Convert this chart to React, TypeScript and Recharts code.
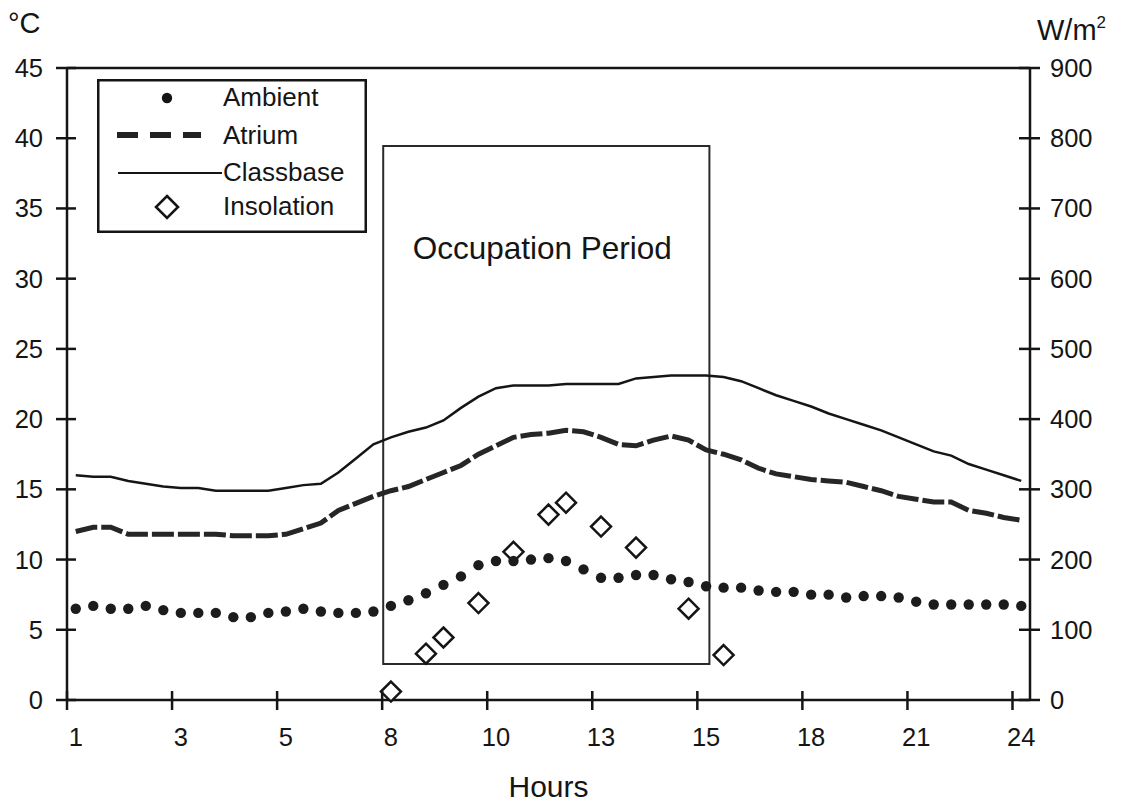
import React from 'react';
import {
  ComposedChart,
  Line,
  Scatter,
  XAxis,
  YAxis,
  ReferenceArea,
  ReferenceLine,
  Legend,
  Label,
} from 'recharts';

// ---------- data ----------
const hourLabels = ['1', '3', '5', '8', '10', '13', '15', '18', '21', '24'];
const labelEvery = 6; // one hour label every 6 samples

const ambient = [
  6.5, 6.7, 6.5, 6.5, 6.7, 6.4, 6.2, 6.2, 6.2, 5.9,
  5.9, 6.2, 6.3, 6.5, 6.3, 6.2, 6.2, 6.3, 6.7, 7.1,
  7.6, 8.2, 8.8, 9.6, 9.9, 9.9, 10.0, 10.1, 9.9, 9.3,
  8.7, 8.7, 8.9, 8.9, 8.6, 8.4, 8.1, 8.0, 8.0, 7.8,
  7.7, 7.7, 7.5, 7.5, 7.3, 7.4, 7.4, 7.3, 7.0, 6.8,
  6.8, 6.8, 6.8, 6.8, 6.7,
];

const atrium = [
  12.0, 12.3, 12.3, 11.8, 11.8, 11.8, 11.8, 11.8, 11.8, 11.7,
  11.7, 11.7, 11.8, 12.2, 12.6, 13.5, 14.0, 14.5, 14.9, 15.2,
  15.7, 16.2, 16.7, 17.5, 18.1, 18.7, 18.9, 19.0, 19.2, 19.1,
  18.7, 18.2, 18.1, 18.5, 18.8, 18.5, 17.8, 17.5, 17.1, 16.5,
  16.1, 15.9, 15.7, 15.6, 15.5, 15.2, 14.9, 14.5, 14.3, 14.1,
  14.1, 13.5, 13.3, 13.0, 12.8,
];

const classbase = [
  16.0, 15.9, 15.9, 15.6, 15.4, 15.2, 15.1, 15.1, 14.9, 14.9,
  14.9, 14.9, 15.1, 15.3, 15.4, 16.2, 17.2, 18.2, 18.7, 19.1,
  19.4, 19.9, 20.8, 21.6, 22.2, 22.4, 22.4, 22.4, 22.5, 22.5,
  22.5, 22.5, 22.9, 23.0, 23.1, 23.1, 23.1, 23.0, 22.7, 22.2,
  21.7, 21.3, 20.9, 20.4, 20.0, 19.6, 19.2, 18.7, 18.2, 17.7,
  17.4, 16.8, 16.4, 16.0, 15.6,
];

const insolationIndex = [18, 20, 21, 23, 25, 27, 28, 30, 32, 35, 37];
const insolation = [12, 66, 89, 138, 211, 264, 281, 247, 217, 130, 64];

const tempTicks = [0, 5, 10, 15, 20, 25, 30, 35, 40, 45];
const radTicks = [0, 100, 200, 300, 400, 500, 600, 700, 800, 900];

// occupation period annotation box (x in sample index, y in °C)
const occupationX = [17.56, 36.19];
const occupationY = [2.56, 39.45];

// ---------- derived tables ----------
const data = ambient.map((a, i) => ({
  i,
  ambient: a,
  atrium: atrium[i],
  classbase: classbase[i],
}));
const insolData = insolationIndex.map((idx, k) => ({ i: idx, w: insolation[k] }));
const xTicks = hourLabels.map((_, k) => k * labelEvery);

// ---------- layout ----------
const W = 1123;
const H = 804;
const PLOT_LEFT = 67;
const PLOT_RIGHT = 1030;
const PLOT_TOP = 68;
const PLOT_BOTTOM = 700;
const FONT = '"Liberation Sans", Arial, Helvetica, sans-serif';
const INK = '#151515';

const LeftTick = (props: any) => {
  const { y, payload } = props;
  return (
    <g>
      <line x1={PLOT_LEFT - 11} x2={PLOT_LEFT + 9} y1={y} y2={y} stroke={INK} strokeWidth={2.5} />
      <text x={43} y={y} dy={9} textAnchor="end" fontSize={25.5} fill={INK} fontFamily={FONT}>
        {payload.value}
      </text>
    </g>
  );
};

const RightTick = (props: any) => {
  const { y, payload } = props;
  return (
    <g>
      <line x1={PLOT_RIGHT - 11} x2={PLOT_RIGHT + 10} y1={y} y2={y} stroke={INK} strokeWidth={2.5} />
      <text x={1050} y={y} dy={9} textAnchor="start" fontSize={25.5} fill={INK} fontFamily={FONT}>
        {payload.value}
      </text>
    </g>
  );
};

const XTick = (props: any) => {
  const { x, payload } = props;
  const half = (PLOT_RIGHT - PLOT_LEFT) / ambient.length / 2;
  const lbl = hourLabels[Math.round(payload.value / labelEvery)];
  return (
    <g>
      <line x1={x - half} x2={x - half} y1={PLOT_BOTTOM - 9} y2={PLOT_BOTTOM + 10} stroke={INK} strokeWidth={2.5} />
      <text x={x} y={746} textAnchor="middle" fontSize={25.5} fill={INK} fontFamily={FONT}>
        {lbl}
      </text>
    </g>
  );
};

const Diamond = (props: any) => {
  const { cx, cy } = props;
  if (cx == null || cy == null) return null;
  const r = 10;
  return (
    <path
      d={`M${cx},${cy - r} L${cx + r},${cy} L${cx},${cy + r} L${cx - r},${cy} Z`}
      fill="#fff"
      stroke={INK}
      strokeWidth={2.5}
    />
  );
};

const renderLegend = () => (
  <svg width={270} height={154} style={{ display: 'block' }}>
    <rect x={1.25} y={1.25} width={267.5} height={151.5} fill="#fff" stroke={INK} strokeWidth={2.5} />
    <circle cx={70} cy={19} r={5.2} fill={INK} />
    <text x={126} y={27} fontSize={26} fill={INK} fontFamily={FONT}>Ambient</text>
    <line x1={20} x2={104} y1={56} y2={56} stroke="#222" strokeWidth={6} strokeDasharray="21 12" />
    <text x={126} y={64.5} fontSize={26} fill={INK} fontFamily={FONT}>Atrium</text>
    <line x1={21} x2={125} y1={94} y2={94} stroke={INK} strokeWidth={2.2} />
    <text x={126} y={102} fontSize={26} fill={INK} fontFamily={FONT}>Classbase</text>
    <path d="M70,117 L81,128 L70,139 L59,128 Z" fill="#fff" stroke={INK} strokeWidth={2.6} />
    <text x={126} y={136} fontSize={26} fill={INK} fontFamily={FONT}>Insolation</text>
  </svg>
);

export default function App() {
  return (
    <div style={{ position: 'absolute', left: 0, top: 0, width: W, height: H, background: '#fff' }}>
      <ComposedChart
        width={W}
        height={H}
        data={data}
        margin={{ top: PLOT_TOP, right: 0, bottom: 0, left: 0 }}
        style={{ fontFamily: FONT }}
      >
        <XAxis
          xAxisId="x"
          dataKey="i"
          type="number"
          domain={[-0.5, ambient.length - 0.5]}
          ticks={xTicks}
          interval={0}
          height={H - PLOT_BOTTOM}
          axisLine={{ stroke: INK, strokeWidth: 2.5 }}
          tickLine={false}
          tick={XTick}
        >
          <Label
            content={(p: any) => (
              <text
                x={p.viewBox.x + p.viewBox.width / 2}
                y={797}
                textAnchor="middle"
                fontSize={30}
                fill={INK}
                fontFamily={FONT}
              >
                Hours
              </text>
            )}
          />
        </XAxis>
        <YAxis
          yAxisId="left"
          orientation="left"
          width={PLOT_LEFT}
          domain={[0, 45]}
          ticks={tempTicks}
          interval={0}
          axisLine={{ stroke: INK, strokeWidth: 2.5 }}
          tickLine={false}
          tick={LeftTick}
        >
          <Label
            content={() => (
              <text x={8} y={33} fontSize={29} fill={INK} fontFamily={FONT}>
                °C
              </text>
            )}
          />
        </YAxis>
        <YAxis
          yAxisId="right"
          orientation="right"
          width={W - PLOT_RIGHT}
          domain={[0, 900]}
          ticks={radTicks}
          interval={0}
          axisLine={{ stroke: INK, strokeWidth: 2.5 }}
          tickLine={false}
          tick={RightTick}
        >
          <Label
            content={() => (
              <text x={1037} y={40} fontSize={29} fill={INK} fontFamily={FONT}>
                W/m
                <tspan fontSize={17} dy={-12}>2</tspan>
              </text>
            )}
          />
        </YAxis>

        <ReferenceLine xAxisId="x" yAxisId="left" y={45} stroke={INK} strokeWidth={2.5} />

        <ReferenceArea
          xAxisId="x"
          yAxisId="left"
          x1={occupationX[0]}
          x2={occupationX[1]}
          y1={occupationY[0]}
          y2={occupationY[1]}
          fill="none"
          fillOpacity={0}
          stroke="#2a2a2a"
          strokeWidth={2}
          label={
            <Label
              content={(p: any) => (
                <text
                  x={p.viewBox.x + p.viewBox.width / 2 - 4}
                  y={p.viewBox.y + 113}
                  textAnchor="middle"
                  fontSize={31.5}
                  fill={INK}
                  fontFamily={FONT}
                >
                  Occupation Period
                </text>
              )}
            />
          }
        />

        <Line
          xAxisId="x"
          yAxisId="left"
          type="linear"
          dataKey="classbase"
          stroke={INK}
          strokeWidth={2.5}
          dot={false}
          isAnimationActive={false}
        />
        <Line
          xAxisId="x"
          yAxisId="left"
          type="linear"
          dataKey="atrium"
          stroke="#262626"
          strokeWidth={5}
          strokeDasharray="22 4"
          dot={false}
          isAnimationActive={false}
        />
        <Line
          xAxisId="x"
          yAxisId="left"
          type="linear"
          dataKey="ambient"
          stroke="none"
          strokeWidth={0}
          dot={{ r: 5.2, fill: '#1c1c1c', stroke: 'none' }}
          isAnimationActive={false}
        />
        <Scatter
          xAxisId="x"
          yAxisId="right"
          data={insolData}
          dataKey="w"
          shape={Diamond}
          isAnimationActive={false}
        />

        <Legend
          layout="vertical"
          align="center"
          verticalAlign="middle"
          content={renderLegend}
          wrapperStyle={{ left: 97, top: 79, width: 270, height: 154 }}
        />
      </ComposedChart>
    </div>
  );
}
